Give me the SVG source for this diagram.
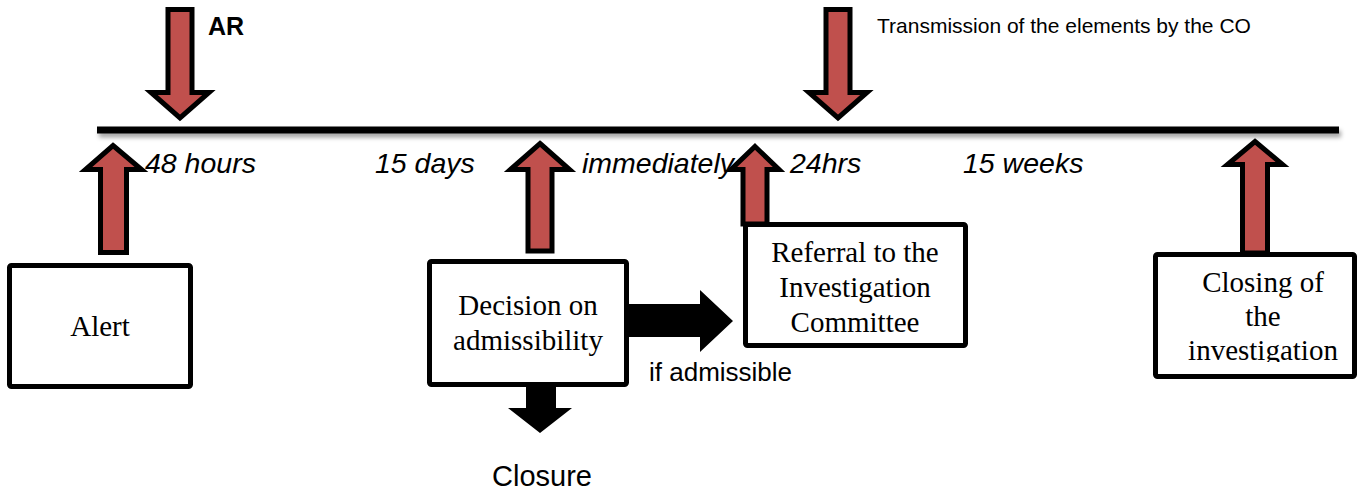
<svg xmlns="http://www.w3.org/2000/svg" width="1358" height="490" viewBox="0 0 1358 490">
  <defs>
    <filter id="shadow" filterUnits="userSpaceOnUse" x="80" y="110" width="1280" height="40">
      <feDropShadow dx="2" dy="4" stdDeviation="2" flood-color="#000" flood-opacity="0.35"/>
    </filter>
    <clipPath id="clipClosing">
      <rect x="1158" y="257" width="194" height="105"/>
    </clipPath>
  </defs>
  <style>
    .red { fill: #C0504D; stroke: #000; stroke-width: 5; stroke-linejoin: miter; }
    .blk { fill: #000; stroke: none; }
    .box { fill: #fff; stroke: #000; stroke-width: 5; }
    .serif { font-family: "Liberation Serif", "Times New Roman", serif; font-size: 29px; fill: #000; text-anchor: middle; }
    .sans { font-family: "Liberation Sans", Arial, sans-serif; fill: #000; }
    .time { font-family: "Liberation Sans", Arial, sans-serif; font-style: italic; font-size: 28.5px; fill: #000; }
  </style>

  <g id="timeline">
    <rect x="97" y="126.5" width="1242" height="7" fill="#000" filter="url(#shadow)"/>
    <text class="time" x="145" y="173">48 hours</text>
    <text class="time" x="375" y="173">15 days</text>
    <text class="time" x="582" y="173">immediately</text>
    <text class="time" x="790" y="173">24hrs</text>
    <text class="time" x="963" y="173">15 weeks</text>
  </g>

  <g id="node-alert">
    <rect class="box" x="9.5" y="265.5" width="181" height="121" rx="2"/>
    <text class="serif" x="100" y="336">Alert</text>
  </g>

  <g id="node-decision">
    <rect class="box" x="429.5" y="261.5" width="197" height="123" rx="2"/>
    <text class="serif" x="528" y="315">Decision on</text>
    <text class="serif" x="528" y="350">admissibility</text>
  </g>

  <g id="node-referral">
    <rect class="box" x="745.5" y="224.5" width="220" height="121" rx="2"/>
    <text class="serif" x="855" y="262">Referral to the</text>
    <text class="serif" x="855" y="297">Investigation</text>
    <text class="serif" x="855" y="332">Committee</text>
  </g>

  <g id="node-closing">
    <rect class="box" x="1155.5" y="254.5" width="199" height="122" rx="2"/>
    <g clip-path="url(#clipClosing)">
      <text class="serif" x="1263" y="292">Closing of</text>
      <text class="serif" x="1263" y="326">the</text>
      <text class="serif" x="1263" y="360">investigation</text>
    </g>
  </g>

  <g id="node-ar">
    <polygon class="red" points="168,9.5 192,9.5 192,92.5 209,92.5 180,118 151,92.5 168,92.5"/>
    <text class="sans" x="208" y="35" font-size="25" font-weight="bold">AR</text>
  </g>

  <g id="node-transmission">
    <polygon class="red" points="826,9.5 850,9.5 850,92.5 867,92.5 838,118 809,92.5 826,92.5"/>
    <text class="sans" x="877" y="33" font-size="21">Transmission of the elements by the CO</text>
  </g>

  <g id="connectors">
    <polygon class="red" points="113,145.5 141.5,169.5 126.5,169.5 126.5,252.5 100.5,252.5 100.5,169.5 85.5,169.5"/>
    <polygon class="red" points="540,143.5 569.5,169.5 552,169.5 552,251 528,251 528,169.5 510.5,169.5"/>
    <polygon class="red" points="755,146.5 779,169.5 767,169.5 767,224 743,224 743,169.5 731,169.5"/>
    <polygon class="red" points="1255,141.5 1282.5,164.5 1267.5,164.5 1267.5,253 1242.5,253 1242.5,164.5 1227.5,164.5"/>
    <polygon class="blk" points="629,304 700,304 700,290 733,321 700,352 700,337 629,337"/>
    <polygon class="blk" points="526,386 556,386 556,408 572,408 540,433 508,408 526,408"/>
    <text class="sans" x="649" y="381" font-size="26">if admissible</text>
    <text class="sans" x="542" y="486" font-size="29" text-anchor="middle">Closure</text>
  </g>
</svg>
